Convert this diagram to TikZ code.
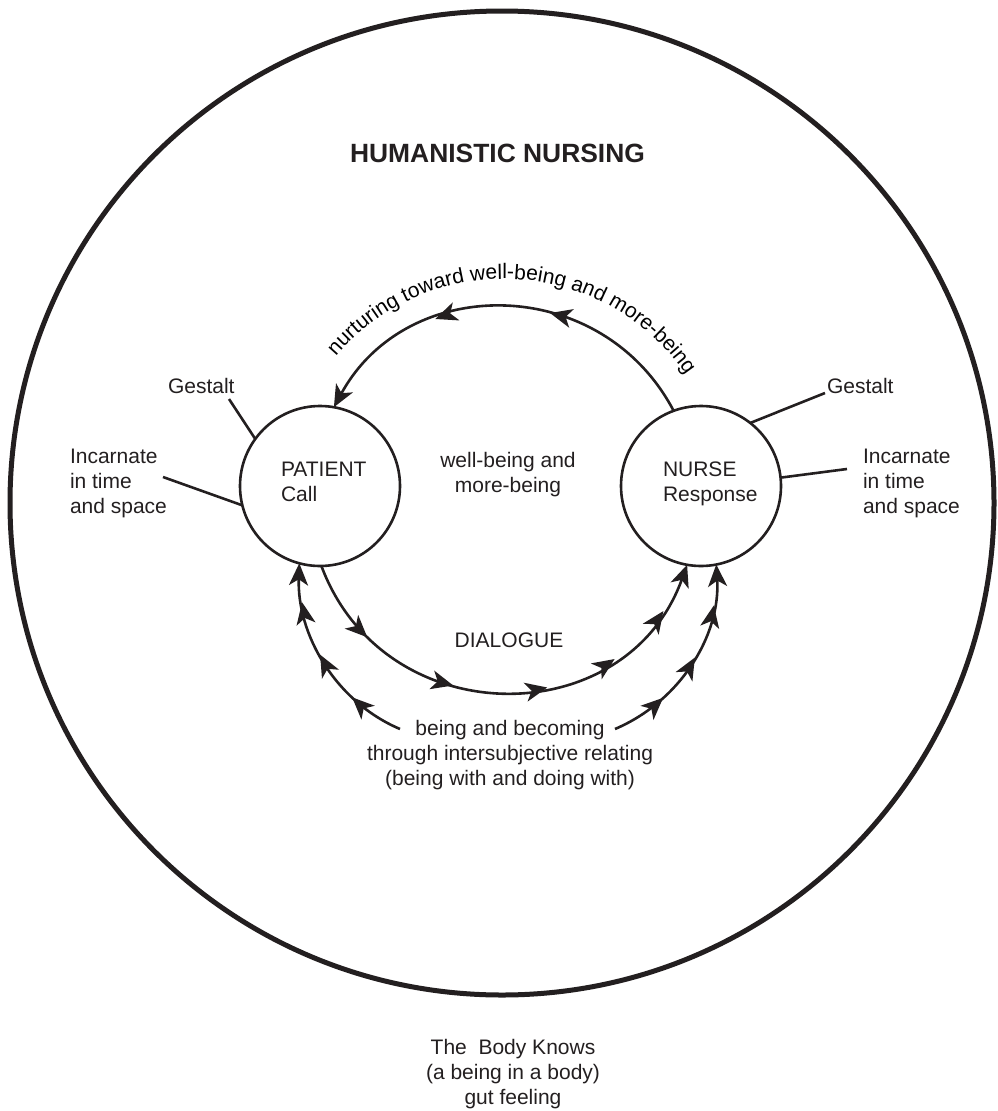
\documentclass[tikz,border=0pt]{standalone}
\usepackage{fontspec}
\setmainfont{Liberation Sans}
\usetikzlibrary{arrows.meta, decorations.markings, decorations.text}
\definecolor{ink}{HTML}{231F20}
\tikzset{barb/.tip={Stealth[length=22pt, width=19pt, inset=6pt]}}

\begin{document}
\begin{tikzpicture}[x=1pt, y=1pt, color=ink,
  every node/.style={font=\fontsize{21}{25}\selectfont, inner sep=0pt, outer sep=0pt},
  frame/.style={draw, circle, line width=5pt, minimum size=984pt},
  person/.style={draw, circle, line width=2.6pt, minimum size=160pt},
  link/.style={line width=2.6pt},
  flow/.style={link, -barb},
  titletext/.style={font=\bfseries\fontsize{26.4}{30}\selectfont}
]
\useasboundingbox (0,0) rectangle (997,-1111);

% outer world circle and heading
\node[frame] (frame) at (502,-503) {};
\node[titletext, anchor=base] (title) at (497.5,-162.7) {HUMANISTIC NURSING};

% the two persons
\node[person] (patient) at (320,-486) {};
\node[person] (nurse) at (701,-486) {};
\node[anchor=north west, align=left] (patientlabel) at ([shift={(-39,24)}]patient.center) {PATIENT\\Call};
\node[anchor=north west, align=left] (nurselabel) at ([shift={(-38,24)}]nurse.center) {NURSE\\Response};

% central texts
\node[anchor=north, align=center] (goal) at (508,-452) {well-being and\\more-being};
\node[anchor=base] (dialogue) at (509,-647) {DIALOGUE};
\node[anchor=north, align=center] (relating) at (510,-720) {being and becoming\\through intersubjective relating\\(being with and doing with)};
\node[anchor=north, align=center] (body) at (513,-1039) {The\ \ Body Knows\\(a being in a body)\\gut feeling};

% side annotations
\node[anchor=base west] (gestaltL) at (168,-393) {Gestalt};
\node[anchor=base west] (gestaltR) at (827,-393) {Gestalt};
\node[anchor=north west, align=left] (incarnL) at (70,-449) {Incarnate\\in time\\and space};
\node[anchor=north west, align=left] (incarnR) at (863,-449) {Incarnate\\in time\\and space};

\coordinate (gL) at (229,-399);
\coordinate (iL) at (163,-477);
\coordinate (gR) at (825,-393);
\coordinate (iR) at (847,-469);
\draw[link] (gL) -- (patient.144);
\draw[link] (iL) -- (patient.194);
\draw[link] (gR) -- (nurse.52);
\draw[link] (iR) -- (nurse.6);

% nurturing arc, nurse to patient
\draw[flow, postaction={decorate, decoration={markings,
    mark=at position 0.39 with {\arrow{barb}},
    mark=at position 0.67 with {\arrow{barb}}}}]
  (nurse.110) to[out=117.7, in=61.4, looseness=1.158] (patient.80);

% dialogue arc, patient to nurse
\draw[flow, postaction={decorate, decoration={markings,
    mark=at position 0.18 with {\arrow{barb}},
    mark=at position 0.39 with {\arrow{barb}},
    mark=at position 0.59 with {\arrow{barb}},
    mark=at position 0.745 with {\arrow{barb}},
    mark=at position 0.89 with {\arrow{barb}}}}]
  (patient.271) to[out=290.5, in=250.2, looseness=1.256] (nurse.260);

% intersubjective relating arcs
\coordinate (relL) at (400,-729);
\coordinate (relR) at (615,-729);
\draw[flow, postaction={decorate, decoration={markings,
    mark=at position 0.28 with {\arrow{barb}},
    mark=at position 0.54 with {\arrow{barb}},
    mark=at position 0.81 with {\arrow{barb}}}}]
  (relL) to[out=157, in=268, looseness=0.93] (patient.255);
\draw[flow, postaction={decorate, decoration={markings,
    mark=at position 0.28 with {\arrow{barb}},
    mark=at position 0.53 with {\arrow{barb}},
    mark=at position 0.80 with {\arrow{barb}}}}]
  (relR) to[out=23, in=273.5, looseness=0.937] (nurse.281);

% curved caption above the nurturing arc
\coordinate (hub) at (504,-500);
\path[decorate, decoration={text along path, text align=center,
    text={|\fontsize{21}{25}\selectfont|nurturing toward well-being and more-being}}]
  ([shift={(147:221)}]hub) arc[start angle=147, end angle=27, radius=221];
\end{tikzpicture}
\end{document}
